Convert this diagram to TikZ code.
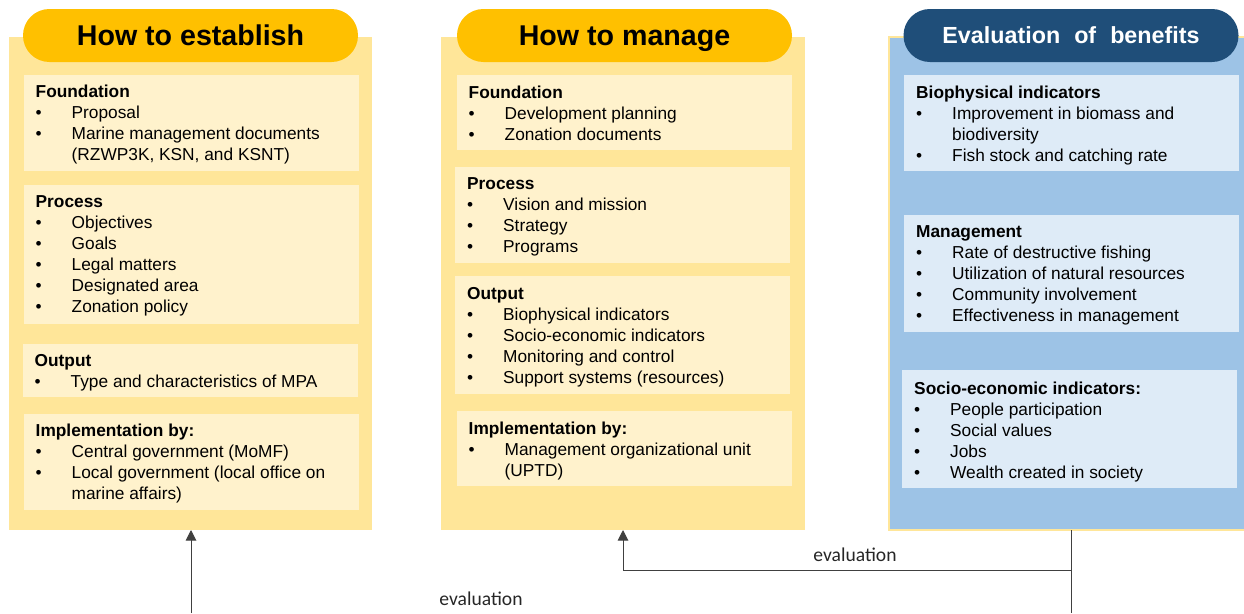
\documentclass[tikz,border=0pt]{standalone}
\usepackage{fontspec}
\setmainfont{Liberation Sans}
\newfontfamily\labelfont{Carlito}
\usetikzlibrary{arrows.meta}

\definecolor{yOuter}{HTML}{FFE699}
\definecolor{yInner}{HTML}{FFF2CC}
\definecolor{yHead}{HTML}{FFC000}
\definecolor{bOuter}{HTML}{9DC3E6}
\definecolor{bInner}{HTML}{DEEBF7}
\definecolor{bHead}{HTML}{1F4E79}
\definecolor{connGray}{HTML}{404040}

% bullet item, continuation line and bold heading of a list box
\newcommand\bul{\makebox[36pt][l]{•}}
\newcommand\cont{\hspace*{36pt}}
\newcommand\heading[1]{\rule{0pt}{14pt}\textbf{#1}}

\begin{document}
\begin{tikzpicture}[x=1pt,y=-1pt,
  rect/.style={anchor=north west, inner sep=0pt, outer sep=0pt},
  panelY/.style={rect, fill=yOuter},
  panelB/.style={rect, fill=bOuter, draw=yOuter, line width=1.5pt},
  boxY/.style={rect, fill=yInner},
  boxB/.style={rect, fill=bInner},
  pill/.style={inner sep=0pt, outer sep=0pt, minimum width=335pt, minimum height=53pt,
    rounded corners=26.4pt, text depth=0pt},
  pillY/.style={pill, fill=yHead, text=black, text height=20.5pt,
    font=\bfseries\fontsize{28.6}{34}\selectfont},
  pillB/.style={pill, fill=bHead, text=white, text height=16.6pt,
    font=\bfseries\fontsize{23.3}{28}\selectfont},
  listtext/.style={anchor=north west, inner sep=0pt, align=left,
    font=\fontsize{17.3}{21}\selectfont},
  conn/.style={draw=connGray, line width=1pt},
  arrowconn/.style={conn, -{Triangle[width=10.5pt,length=10.5pt]}},
  evlabel/.style={anchor=base, inner sep=0pt, font=\labelfont\fontsize{19.6}{24}\selectfont, text=black!85}
]
\useasboundingbox (0,0) rectangle (1244,613);
\clip (0,0) rectangle (1244,613);

% ---------- outer panels ----------
\node[panelY, minimum width=363pt, minimum height=493pt] (L) at (9,37) {};
\node[panelY, minimum width=364pt, minimum height=493pt] (M) at (441,37) {};
\node[panelB, minimum width=364pt, minimum height=493pt] (R) at (889,37) {};

% ---------- headers ----------
\node[pillY] (hL) at (190.5,35.5) {How to establish};
\node[pillY] (hM) at (624.5,35.5) {How to manage};
\node[pillB] (hR) at (1071,35.5) {Evaluation\hspace{14pt}of\hspace{14pt}benefits};

% ---------- How to establish ----------
\node[boxY, minimum width=335pt, minimum height=96pt] (lf) at (24,75) {};
\node[listtext] (lft) at ([shift={(11.5pt,-8.5pt)}]lf.north west)
  {\heading{Foundation}\\ \bul Proposal\\ \bul Marine management documents\\ \cont(RZWP3K, KSN, and KSNT)};

\node[boxY, minimum width=335pt, minimum height=139pt] (lp) at (24,185) {};
\node[listtext] (lpt) at ([shift={(11.5pt,-8.5pt)}]lp.north west)
  {\heading{Process}\\ \bul Objectives\\ \bul Goals\\ \bul Legal matters\\ \bul Designated area\\ \bul Zonation policy};

\node[boxY, minimum width=335pt, minimum height=53pt] (lo) at (23,344) {};
\node[listtext] (lot) at ([shift={(11.5pt,-8pt)}]lo.north west)
  {\heading{Output}\\ \bul Type and characteristics of MPA};

\node[boxY, minimum width=335pt, minimum height=96pt] (li) at (24,414) {};
\node[listtext] (lit) at ([shift={(11.5pt,-8.5pt)}]li.north west)
  {\heading{Implementation by:}\\ \bul Central government (MoMF)\\ \bul Local government (local office on\\ \cont marine affairs)};

% ---------- How to manage ----------
\node[boxY, minimum width=335pt, minimum height=75pt] (mf) at (457,75) {};
\node[listtext] (mft) at ([shift={(11.5pt,-9pt)}]mf.north west)
  {\heading{Foundation}\\ \bul Development planning\\ \bul Zonation documents};

\node[boxY, minimum width=335pt, minimum height=96pt] (mp) at (455,167) {};
\node[listtext] (mpt) at ([shift={(12pt,-8.5pt)}]mp.north west)
  {\heading{Process}\\ \bul Vision and mission\\ \bul Strategy\\ \bul Programs};

\node[boxY, minimum width=335pt, minimum height=118pt] (mo) at (455,276) {};
\node[listtext] (mot) at ([shift={(12pt,-9pt)}]mo.north west)
  {\heading{Output}\\ \bul Biophysical indicators\\ \bul Socio-economic indicators\\ \bul Monitoring and control\\ \bul Support systems (resources)};

\node[boxY, minimum width=335pt, minimum height=75pt] (mi) at (457,411) {};
\node[listtext] (mit) at ([shift={(11.5pt,-9pt)}]mi.north west)
  {\heading{Implementation by:}\\ \bul Management organizational unit\\ \cont(UPTD)};

% ---------- Evaluation of benefits ----------
\node[boxB, minimum width=335pt, minimum height=96pt] (rb) at (904,75) {};
\node[listtext] (rbt) at ([shift={(12pt,-9pt)}]rb.north west)
  {\heading{Biophysical indicators}\\ \bul Improvement in biomass and\\ \cont biodiversity\\ \bul Fish stock and catching rate};

\node[boxB, minimum width=335pt, minimum height=117pt] (rm) at (904,215) {};
\node[listtext] (rmt) at ([shift={(12pt,-8.5pt)}]rm.north west)
  {\heading{Management}\\ \bul Rate of destructive fishing\\ \bul Utilization of natural resources\\ \bul Community involvement\\ \bul Effectiveness in management};

\node[boxB, minimum width=335pt, minimum height=118pt] (rs) at (902,370) {};
\node[listtext] (rst) at ([shift={(12pt,-10pt)}]rs.north west)
  {\heading{Socio-economic indicators:}\\ \bul People participation\\ \bul Social values\\ \bul Jobs\\ \bul Wealth created in society};

% ---------- evaluation feedback ----------
\coordinate (lbot) at (191,613);
\coordinate (rbot) at (1071,613);
\coordinate (junc) at (1071,570);
\draw[arrowconn] (lbot) -- (lbot |- L.south);
\draw[conn] (R.south) -- (rbot);
\draw[arrowconn] (junc) -| (M.south);
\node[evlabel] (ev1) at (855,561.7) {evaluation};
\node[evlabel] (ev2) at (481,605) {evaluation};
\end{tikzpicture}
\end{document}
